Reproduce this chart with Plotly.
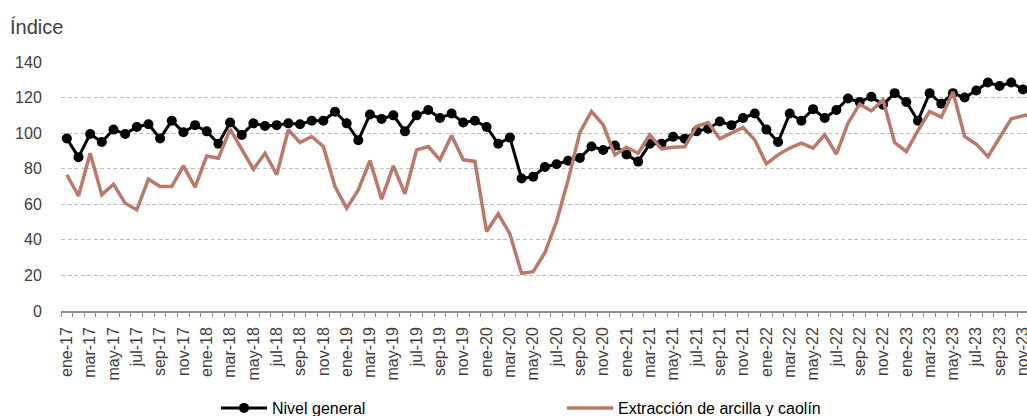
import plotly.graph_objects as go

# ene-17 .. dic-23 monthly index values
meses = ["ene", "feb", "mar", "abr", "may", "jun", "jul", "ago", "sep", "oct", "nov", "dic"]
anios = ["17", "18", "19", "20", "21", "22", "23"]
categorias = [f"{m}-{a}" for a in anios for m in meses]

nivel_general = [
    97, 86.5, 99.5, 95, 102, 99.5, 103.5, 105, 97, 107, 100.5, 104.5,
    101, 94, 106, 99, 105.5, 104, 104.5, 105.5, 105, 107, 107, 112,
    105.5, 96, 110.5, 108, 110, 101, 110, 113, 108.5, 111, 106, 107,
    103.5, 94, 97.5, 74.5, 75.5, 81, 82.5, 84.5, 86, 92.5, 90.5, 93,
    88, 84, 94, 94, 98, 96.8, 101, 102.5, 106.5, 104.5, 108.5, 111,
    102, 95, 111, 107, 113.5, 108.5, 113, 119.5, 117.5, 120.5, 116, 122.5,
    117.5, 107, 122.5, 116.5, 122.5, 120, 124, 128.5, 126.5, 128.5, 124.5, 125,
]

arcilla_caolin = [
    76.6, 64.7, 88.7, 65.3, 71.3, 60.6, 56.9, 74.1, 70, 70, 81.6, 69.6,
    87.2, 85.9, 102.2, 90.6, 79.7, 88.7, 76.6, 101.9, 94.7, 98.1, 92.5, 70,
    57.8, 68.1, 84.6, 62.9, 81.6, 65.9, 90.6, 92.5, 85, 98.7, 85, 84.1,
    44.7, 54.6, 43.3, 21.2, 22.1, 32.8, 50.3, 73.7, 100.4, 112.2, 104.7, 87.8,
    92.1, 88.7, 99.1, 91.2, 92.1, 92.3, 103.8, 106, 96.8, 100, 103.2, 96.2,
    82.7, 87.8, 91.6, 94.4, 91.6, 99.1, 88.2, 105.6, 116.3, 112.5, 118.8, 94.7,
    89.6, 101.5, 112.2, 109, 123.1, 98.1, 93.8, 86.8, 97.2, 108.1, 109.8, 111,
]

x_idx = list(range(len(categorias)))
FONT = "Liberation Sans, Arial, Helvetica, sans-serif"
TXT = "#404040"

fig = go.Figure()

fig.add_trace(go.Scatter(
    x=x_idx, y=nivel_general, name="Nivel general",
    mode="lines+markers",
    line=dict(color="black", width=3),
    marker=dict(color="black", size=10),
))
fig.add_trace(go.Scatter(
    x=x_idx, y=arcilla_caolin, name="Extracción de arcilla y caolín",
    mode="lines",
    line=dict(color="#b97a6b", width=3.5),
))

fig.update_layout(
    width=1027, height=416,
    margin=dict(l=61, r=0, t=62, b=105),
    paper_bgcolor="white", plot_bgcolor="white",
    font=dict(family=FONT, size=16, color=TXT),
    title=dict(
        text="Índice", x=10 / 1027, xanchor="left",
        y=1 - 27 / 416, yanchor="middle",
        font=dict(size=20, color=TXT),
    ),
    showlegend=True,
    legend=dict(
        orientation="h",
        xref="container", x=216 / 1027, xanchor="left",
        yref="container", y=1 - 408 / 416, yanchor="middle",
        font=dict(size=16, color="black"),
        entrywidth=285, entrywidthmode="pixels",
        itemwidth=46, bgcolor="rgba(0,0,0,0)",
    ),
    xaxis=dict(
        range=[-0.5, 82.35], automargin=False,
        tickmode="array",
        tickvals=x_idx[::2], ticktext=categorias[::2],
        tickangle=-90, ticks="", ticklabelstandoff=8,
        ticklabeloverflow="allow",
        tickfont=dict(size=16, color=TXT),
        showgrid=False, zeroline=False,
        showline=True, linecolor="#8c8c8c", linewidth=1.5,
        minor=dict(
            tickmode="array", tickvals=[i - 0.5 for i in range(len(categorias) + 1)],
            ticks="outside", ticklen=4, tickcolor="#8c8c8c", tickwidth=1.2,
            showgrid=False,
        ),
    ),
    yaxis=dict(
        range=[0, 140], dtick=20, automargin=False,
        showgrid=True, gridcolor="#c0c0c0", griddash="4px,2.5px", gridwidth=1.3,
        zeroline=False, showline=False,
        ticks="outside", ticklen=15, tickcolor="rgba(0,0,0,0)",
        tickfont=dict(size=16, color=TXT),
    ),
)

# page body has a default 8px margin; drop it so the figure fills the window
fig.write_html(
    "out.html",
    config={"displayModeBar": False},
    post_script="document.body.style.margin='0';",
)
